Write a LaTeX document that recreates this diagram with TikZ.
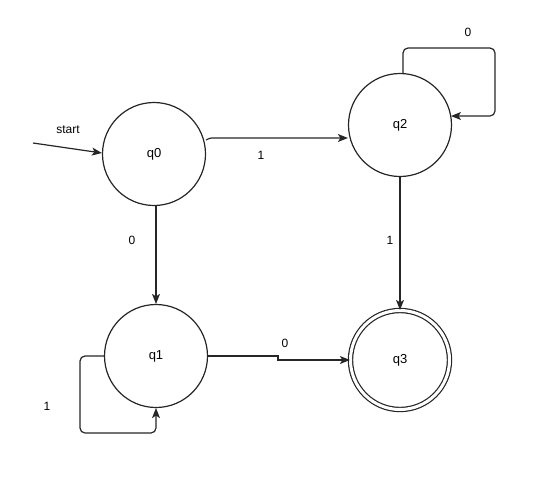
\documentclass[tikz,border=0pt]{standalone}
\usepackage{fontspec}
\setmainfont{Liberation Sans}
\usetikzlibrary{arrows.meta}
\begin{document}
\begin{tikzpicture}[x=1pt,y=-1pt,
  state/.style={draw=black!85,line width=1.2pt,circle,minimum size=103pt,inner sep=0pt,font=\fontsize{13}{15}\selectfont},
  accept/.style={state,double=white,double distance=3pt,minimum size=99pt},
  edge/.style={draw=black!85,line width=1.2pt,-{Stealth[length=10pt,width=8pt,inset=2.5pt]},rounded corners=5pt},
  lbl/.style={font=\fontsize{12}{14}\selectfont,inner sep=1pt}]
\useasboundingbox (0,0) rectangle (554,480);
\node[state] (q0) at (154,154) {q0};
\node[state] (q2) at (400,125) {q2};
\node[state] (q1) at (156,356) {q1};
\node[accept] (q3) at (400,360) {q3};
\coordinate (s) at (33,143);
\draw[edge] (s) -- (q0.west |- 0,153) coordinate (se);
\node[lbl] (ls) at (68,130) {start};
% q0 -> q2
\draw[edge,rounded corners=0pt] (q0.east |- 0,140) .. controls (210,138) .. (214,138) -- (q2.west |- 0,138);
\node[lbl] (l02) at (261,155) {1};
% q0 -> q1
\draw[edge] (q0.south -| 156,0) -- (q1.north);
\node[lbl] (l01) at (132,240) {0};
% q2 -> q3
\draw[edge] (q2.south) -- (q3.north);
\node[lbl] (l23) at (390,240) {1};
% q1 -> q3
\draw[edge,rounded corners=0pt] (q1.east) -- (278,356) -- (278,360) -- (q3.west);
\node[lbl] (l13) at (285,343) {0};
% q1 loop
\draw[edge] (q1.west) -- (80,356) -- (80,433) -- (156,433) -- (q1.south);
\node[lbl] (l11) at (47,406) {1};
% q2 loop
\draw[edge] (403,73.1) -- (403,48) -- (495,48) -- (495,116) -- (451,116);
\node[lbl] (l22) at (468,32) {0};
\end{tikzpicture}
\end{document}
